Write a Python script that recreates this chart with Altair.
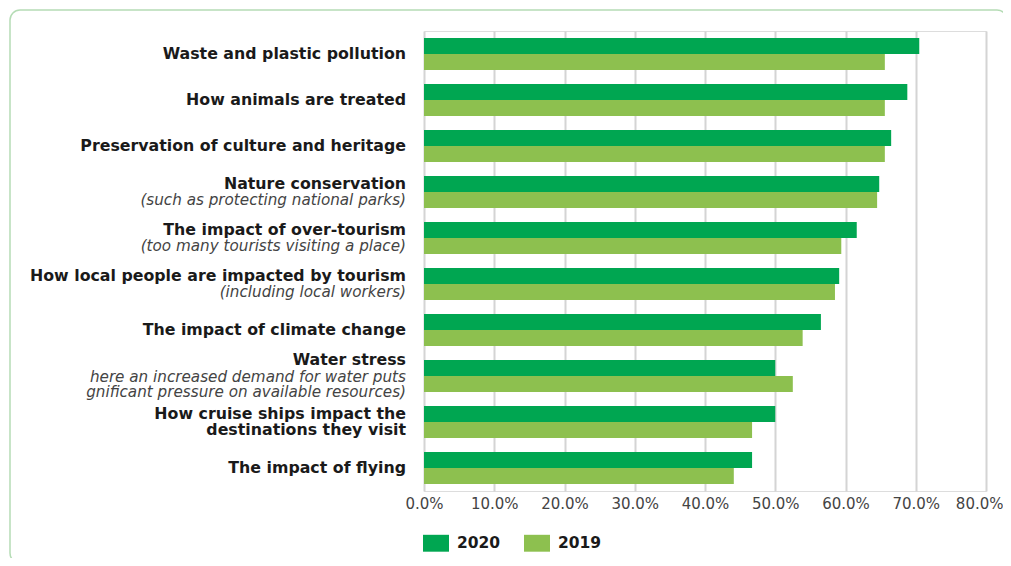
import altair as alt
import pandas as pd

categories = [
    "Waste and plastic pollution",
    "How animals are treated",
    "Preservation of culture and heritage",
    "Nature conservation",
    "The impact of over-tourism",
    "How local people are impacted by tourism",
    "The impact of climate change",
    "Water stress",
    "How cruise ships impact the destinations they visit",
    "The impact of flying",
]
label_main = [
    ["Waste and plastic pollution"],
    ["How animals are treated"],
    ["Preservation of culture and heritage"],
    ["Nature conservation"],
    ["The impact of over-tourism"],
    ["How local people are impacted by tourism"],
    ["The impact of climate change"],
    ["Water stress"],
    ["How cruise ships impact the", "destinations they visit"],
    ["The impact of flying"],
]
label_sub = [
    [],
    [],
    [],
    ["(such as protecting national parks)"],
    ["(too many tourists visiting a place)"],
    ["(including local workers)"],
    [],
    ["here an increased demand for water puts", "gnificant pressure on available resources)"],
    [],
    [],
]
values_2020 = [70.5, 68.8, 66.5, 64.8, 61.6, 59.1, 56.5, 50.0, 50.0, 46.7]
values_2019 = [65.6, 65.6, 65.6, 64.5, 59.4, 58.5, 53.9, 52.5, 46.7, 44.1]
years = ["2020", "2019"]
colors = ["#00a651", "#8dc04f"]
x_ticks = [0, 10, 20, 30, 40, 50, 60, 70, 80]

rows = []
for c, a, b in zip(categories, values_2020, values_2019):
    rows.append({"category": c, "year": "2020", "value": a})
    rows.append({"category": c, "year": "2019", "value": b})
df = pd.DataFrame(rows)

W, H = 562, 460
FONT = "DejaVu Sans"
BOLD_SIZE, ITAL_SIZE = 15.8, 15.2
LINE_H = {"bold": 16.8, "italic": 15.6}
last_tick = x_ticks[-1]

bars = alt.Chart(df).mark_bar().encode(
    x=alt.X("value:Q", scale=alt.Scale(domain=[0, 80], nice=False),
            axis=alt.Axis(values=x_ticks, title=None, domain=False, ticks=False,
                          labelExpr="format(datum.value, '.1f') + '%'",
                          labelOverlap=False, labelFlush=False,
                          labelAlign={"condition": {"test": f"datum.value == {last_tick}", "value": "right"},
                                      "value": "center"},
                          labelOffset={"condition": {"test": f"datum.value == {last_tick}", "value": 17},
                                       "value": 0},
                          labelFont=FONT, labelFontSize=15, labelColor="#444444",
                          labelPadding=5, grid=True, gridColor="#d4d4d4", gridWidth=2)),
    y=alt.Y("category:N", sort=categories, axis=None,
            scale=alt.Scale(paddingInner=0.3, paddingOuter=0.15)),
    yOffset=alt.YOffset("year:N", sort=years),
    color=alt.Color("year:N", scale=alt.Scale(domain=years, range=colors),
                    legend=alt.Legend(title=None, orient="none", direction="horizontal",
                                      legendX=-1, legendY=499,
                                      symbolType="M-1,-0.65H1V0.65H-1Z",
                                      symbolSize=676, symbolStrokeWidth=0, symbolOpacity=1,
                                      labelFont=FONT, labelFontSize=15.5, labelFontWeight="bold",
                                      labelColor="#1a1a1a", labelOffset=8, columnPadding=23)),
)

# label lines; vertical offsets computed from the per-style line heights
line_rows = []
for c, mains, subs in zip(categories, label_main, label_sub):
    lines = [(t, "bold") for t in mains] + [(t, "italic") for t in subs]
    hs = [LINE_H[s] for _, s in lines]
    total = sum(hs)
    pos = -total / 2
    for (t, s), h in zip(lines, hs):
        line_rows.append({"category": c, "text": t, "style": s, "off": round(pos + h / 2, 1)})
        pos += h
ldf = pd.DataFrame(line_rows)

text_layers = []
for (off, style), g in ldf.groupby(["off", "style"]):
    if style == "bold":
        mk = dict(align="right", baseline="middle", dy=float(off), font=FONT, fontSize=BOLD_SIZE,
                  fontWeight="bold", color="#1a1a1a")
    else:
        mk = dict(align="right", baseline="middle", dy=float(off), font=FONT, fontSize=ITAL_SIZE,
                  fontStyle="italic", color="#444444")
    text_layers.append(
        alt.Chart(g).mark_text(**mk).encode(
            x=alt.value(-18),
            y=alt.Y("category:N", sort=categories),
            text="text:N",
        )
    )

frame = alt.Chart(pd.DataFrame({"a": [0]})).mark_rect(
    fillOpacity=0, stroke="#b5dcb5", strokeWidth=1.5, cornerRadius=10
).encode(x=alt.value(-414), x2=alt.value(583), y=alt.value(-21), y2=alt.value(532))

chart = alt.layer(frame, bars, *text_layers).properties(
    width=W, height=H,
    autosize=alt.AutoSizeParams(type="none"),
    padding={"left": 416, "top": 23, "right": 17, "bottom": 67},
).configure_view(stroke=None).configure(background="white")

chart.save("out.html", embed_options={"renderer": "svg", "actions": False})
